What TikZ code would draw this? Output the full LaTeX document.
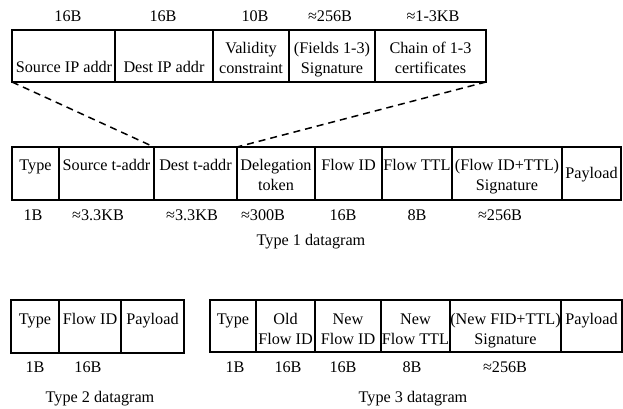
\documentclass[tikz,border=0pt]{standalone}
\usepackage{fontspec}
\setmainfont{Liberation Serif}
\newcommand\fieldbox[5]{% name, x1, x2, top, bottom
  \node[field, minimum width=#3pt-#2pt, minimum height=#5pt-#4pt] (#1) at (#2,#4) {};}
\begin{document}
\begin{tikzpicture}[x=1pt,y=-1pt,
  field/.style={draw, line width=1.5pt, anchor=north west, inner sep=0pt, outer sep=0pt},
  ftext/.style={font=\fontsize{16.2}{20}\selectfont, align=center, anchor=base, inner sep=0pt},
  sizelbl/.style={font=\fontsize{16.2}{20}\selectfont, anchor=base, inner sep=0pt},
  zoomline/.style={line width=1.5pt, dash pattern=on 7pt off 5pt}]
\useasboundingbox (0,0) rectangle (623,409);
% ---- top (delegation token detail) ----
\fieldbox{sip}{12}{115}{30}{82}
\fieldbox{dip}{115}{213}{30}{82}
\fieldbox{val}{213}{289}{30}{82}
\fieldbox{fsig}{289}{375}{30}{82}
\fieldbox{chain}{375}{486}{30}{82}
\node[ftext] (sipt) at (64,73) {Source IP addr};
\node[ftext] (dipt) at (164,73) {Dest IP addr};
\node[ftext] (valt) at (251,74) {Validity\\constraint};
\node[ftext] (fsigt) at (332,74) {(Fields 1-3)\\Signature};
\node[ftext] (chaint) at (430.5,74) {Chain of 1-3\\certificates};
\node[sizelbl] (s1) at (68,22) {16B};
\node[sizelbl] (s2) at (163,22) {16B};
\node[sizelbl] (s3) at (255,22) {10B};
\node[sizelbl] (s4) at (330,22) {≈256B};
\node[sizelbl] (s5) at (433,22) {≈1-3KB};
% ---- type 1 ----
\fieldbox{aty}{12}{59}{147}{200}
\fieldbox{asrc}{59}{154}{147}{200}
\fieldbox{adst}{154}{237}{147}{200}
\fieldbox{adel}{237}{315}{147}{200}
\fieldbox{afid}{315}{382}{147}{200}
\fieldbox{attl}{382}{452}{147}{200}
\fieldbox{asig}{452}{562}{147}{200}
\fieldbox{apay}{562}{621}{147}{200}
\node[ftext] (atyt) at (35.5,170) {Type};
\node[ftext] (asrct) at (106.5,170) {Source t-addr};
\node[ftext] (adstt) at (195.5,170) {Dest t-addr};
\node[ftext] (adelt) at (276,190) {Delegation\\token};
\node[ftext] (afidt) at (348.5,170) {Flow ID};
\node[ftext] (attlt) at (417,170) {Flow TTL};
\node[ftext] (asigt) at (507,190) {(Flow ID+TTL)\\Signature};
\node[ftext] (apayt) at (591.5,178) {Payload};
\node[sizelbl] (as1) at (33,220) {1B};
\node[sizelbl] (as2) at (98,220) {≈3.3KB};
\node[sizelbl] (as3) at (192,220) {≈3.3KB};
\node[sizelbl] (as4) at (263,220) {≈300B};
\node[sizelbl] (as5) at (343,220) {16B};
\node[sizelbl] (as6) at (417,220) {8B};
\node[sizelbl] (as7) at (500,220) {≈256B};
\node[sizelbl] (acap) at (311,245) {Type 1 datagram};
\draw[zoomline] (sip.south west) -- (adst.north west);
\draw[zoomline] (chain.south east) -- (adst.north east);
% ---- type 2 ----
\fieldbox{bty}{11}{59}{300}{353}
\fieldbox{bfid}{59}{121}{300}{353}
\fieldbox{bpay}{121}{184}{300}{353}
\node[ftext] (btyt) at (35,324) {Type};
\node[ftext] (bfidt) at (90,324) {Flow ID};
\node[ftext] (bpayt) at (152.5,324) {Payload};
\node[sizelbl] (bs1) at (35,372) {1B};
\node[sizelbl] (bs2) at (88,372) {16B};
\node[sizelbl] (bcap) at (100,402) {Type 2 datagram};
% ---- type 3 ----
\fieldbox{cty}{210}{256}{300}{352}
\fieldbox{cold}{256}{315}{300}{352}
\fieldbox{cnew}{315}{381}{300}{352}
\fieldbox{cttl}{381}{450}{300}{352}
\fieldbox{csig}{450}{561}{300}{352}
\fieldbox{cpay}{561}{622}{300}{352}
\node[ftext] (ctyt) at (233,324) {Type};
\node[ftext] (coldt) at (285.5,344) {Old\\Flow ID};
\node[ftext] (cnewt) at (348,344) {New\\Flow ID};
\node[ftext] (cttlt) at (415.5,344) {New\\Flow TTL};
\node[ftext] (csigt) at (505.5,344) {(New FID+TTL)\\Signature};
\node[ftext] (cpayt) at (591.5,324) {Payload};
\node[sizelbl] (cs1) at (235,372) {1B};
\node[sizelbl] (cs2) at (288,372) {16B};
\node[sizelbl] (cs3) at (343,372) {16B};
\node[sizelbl] (cs4) at (412,372) {8B};
\node[sizelbl] (cs5) at (505,372) {≈256B};
\node[sizelbl] (ccap) at (413,402) {Type 3 datagram};
\end{tikzpicture}
\end{document}
